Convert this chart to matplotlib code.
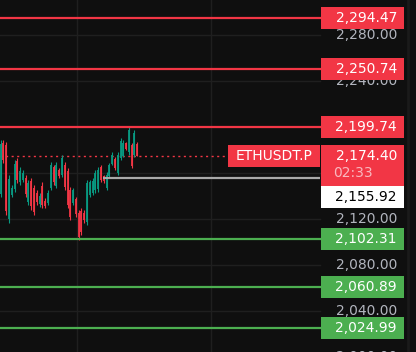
import matplotlib
matplotlib.use('Agg')
import matplotlib.pyplot as plt
from matplotlib.patches import Rectangle

# candles (ETHUSDT.P, oldest first)
opens = [2142, 2186, 2184, 2120, 2141, 2146, 2170, 2152, 2154, 2156,
         2135, 2153, 2147, 2143, 2133, 2149, 2136, 2134, 2147, 2165,
         2149, 2163, 2158, 2167, 2162, 2145, 2134, 2137, 2125, 2127,
         2125, 2117, 2141, 2143, 2145, 2146, 2165, 2157, 2147, 2157,
         2168, 2172, 2160, 2173, 2175, 2186, 2178, 2184, 2176, 2185]
highs = [2188.7, 2188.7, 2187.0, 2158.3, 2149.6, 2171.3, 2173.0, 2165.2, 2162.6, 2158.3,
         2153.9, 2155.7, 2149.6, 2145.2, 2142.6, 2152.2, 2138.3, 2145.2, 2169.6, 2167.0,
         2169.6, 2164.3, 2175.7, 2169.6, 2164.3, 2147.8, 2147.0, 2139.1, 2127.8, 2129.6,
         2127.8, 2153.9, 2153.9, 2155.7, 2162.6, 2165.2, 2167.0, 2158.3, 2160.9, 2168.7,
         2178.3, 2173.9, 2178.3, 2190.4, 2188.7, 2187.0, 2200.0, 2186.1, 2197.4, 2187.0]
lows = [2139.1, 2168.7, 2123.5, 2116.5, 2139.1, 2143.5, 2151.3, 2149.6, 2152.2, 2139.1,
        2132.2, 2127.8, 2123.5, 2132.2, 2130.4, 2129.6, 2129.6, 2132.2, 2145.2, 2149.6,
        2147.0, 2155.7, 2156.5, 2145.2, 2129.6, 2119.1, 2132.2, 2121.7, 2101.7, 2106.1,
        2116.5, 2114.8, 2139.1, 2140.9, 2142.6, 2143.5, 2152.2, 2151.3, 2145.2, 2155.7,
        2167.0, 2162.6, 2158.3, 2171.3, 2173.9, 2180.0, 2175.7, 2164.3, 2173.9, 2174.4]
closes = [2185, 2171, 2127, 2155, 2147, 2168, 2154, 2162, 2160, 2142,
          2151, 2131, 2126, 2135, 2140, 2132, 2131, 2143, 2167, 2152,
          2167, 2157, 2173, 2148, 2132, 2122, 2145, 2124, 2104, 2109,
          2119, 2151, 2152, 2153, 2160, 2163, 2154, 2153, 2158, 2167,
          2176, 2164, 2176, 2188, 2186, 2181, 2197, 2166, 2195, 2174.4]

symbol = 'ETHUSDT.P'
last_price = 2174.40
countdown = '02:33'
red_levels = [2294.47, 2250.74, 2199.74]
green_levels = [2102.31, 2060.89, 2024.99]
white_level = 2155.92
white_level_start = 36.8   # candle index where the grey level begins
axis_ticks = [2000, 2040, 2080, 2120, 2160, 2200, 2240, 2280]
time_grid = [27.5, 75.5]

BG = '#0f0f0f'
GRID = '#1f1f1f'
UP = '#089981'
DOWN = '#f23645'
RED = '#f23645'
GREEN = '#4caf50'
AXIS_TXT = '#b2b5be'

W, H = 416, 352
fig = plt.figure(figsize=(W / 100, H / 100), dpi=100, facecolor=BG)
ax = fig.add_axes([0, 0, 1, 1], facecolor=BG)
ax.set_axis_off()

px_per_bar = 2.79
x0 = -0.2
ax.set_xlim(x0, x0 + W / px_per_bar)
ymin, ymax = 2004.35, 2310.43
ax.set_ylim(ymin, ymax)
ppx = (ymax - ymin) / H          # price per pixel
plot_frac = 320 / W              # right edge of the plotting pane
plot_right = x0 + 320 / px_per_bar
box_l, box_w = 321 / W, 83 / W
txt_r = 397 / W
ytr = ax.get_yaxis_transform()

# grid
for t in axis_ticks:
    ax.axhline(t, xmax=plot_frac, color=GRID, lw=1, zorder=0)
for t in time_grid:
    ax.axvline(t, color=GRID, lw=1, zorder=0)
ax.axvline(x0 + 408 / px_per_bar, color='#1a1a1a', lw=2, zorder=0)

# axis labels (drawn under the level tags)
for t in axis_ticks:
    ax.text(txt_r, t, '{:,.2f}'.format(t), transform=ytr, ha='right', va='center',
            color=AXIS_TXT, fontsize=10, zorder=1)

# candles
for i in range(len(opens)):
    c = UP if closes[i] >= opens[i] else DOWN
    ax.vlines(i, lows[i], highs[i], color=c, lw=0.8, zorder=3)
    ax.vlines(i, min(opens[i], closes[i]), max(opens[i], closes[i]), color=c, lw=1.3, zorder=3)

# level lines
for lv in red_levels:
    ax.axhline(lv, xmax=plot_frac, color=RED, lw=1.6, zorder=4)
for lv in green_levels:
    ax.axhline(lv, xmax=plot_frac, color=GREEN, lw=1.6, zorder=4)
ax.hlines(white_level, white_level_start, plot_right, color='#a9a9a9', lw=1.6, zorder=4)
ax.hlines(last_price, x0, x0 + 228 / px_per_bar, color=RED, lw=1,
          linestyles=(0, (1.5, 2.5)), zorder=2)


def tag(price, face, txt_color='white', center=None):
    c = price if center is None else center
    ax.add_patch(Rectangle((box_l, c - 11 * ppx), box_w, 22 * ppx, transform=ytr,
                           facecolor=face, edgecolor='none', zorder=5))
    ax.text(txt_r, c, '{:,.2f}'.format(price), transform=ytr, ha='right', va='center',
            color=txt_color, fontsize=10, zorder=6)


for lv in red_levels:
    tag(lv, RED)
for lv in green_levels:
    tag(lv, GREEN)

# current price tag with countdown
ax.add_patch(Rectangle((box_l, last_price - 30 * ppx), box_w, 41 * ppx, transform=ytr,
                       facecolor=RED, edgecolor='none', zorder=5))
ax.text(txt_r, last_price, '{:,.2f}'.format(last_price), transform=ytr, ha='right',
        va='center', color='white', fontsize=10, zorder=6)
ax.text(333 / W, last_price - 17 * ppx, countdown, transform=ytr, ha='left',
        va='center', color='#f9b9c0', fontsize=10, zorder=6)

# symbol tag
ax.add_patch(Rectangle((228 / W, last_price - 11 * ppx), 92 / W, 22 * ppx, transform=ytr,
                       facecolor=RED, edgecolor='none', zorder=5))
ax.text(274 / W, last_price, symbol, transform=ytr, ha='center', va='center',
        color='white', fontsize=10, zorder=6)

# white level tag, pushed below the current price tag
tag(white_level, 'white', txt_color='black', center=last_price - 41 * ppx)

fig.savefig('out.png', dpi=100, facecolor=BG)
